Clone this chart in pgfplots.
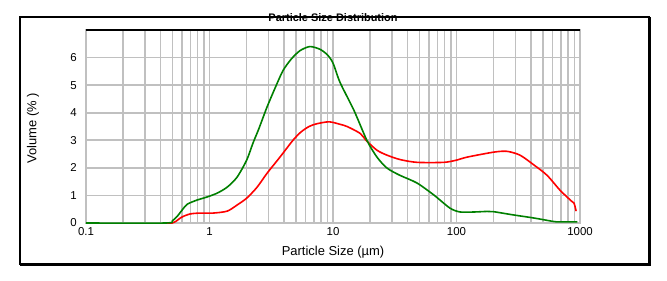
\documentclass[border=0pt]{standalone}
\usepackage{pgfplots}
\pgfplotsset{compat=1.18}
\usepackage{fontspec}
\setmainfont{Liberation Sans}
\definecolor{gridgray}{RGB}{192,192,192}
\definecolor{dgreen}{RGB}{0,128,0}
\begin{document}
\begin{tikzpicture}[x=1bp,y=1bp]
\useasboundingbox (-86,-57) rectangle (581,223);
\fill[white] (-86,-57) rectangle (581,223);
\draw[line width=1.3bp] (-66,-41) rectangle (563,206);
\draw[line width=2.2bp] (-66,-41.5) -- (563.5,-41.5) -- (563.5,206);
\begin{axis}[
  scale only axis, width=494bp, height=193bp,
  xmode=log, xmin=0.1, xmax=1000, ymin=0, ymax=7,
  xtick={0.1,1,10,100,1000}, xticklabels={0.1,1,10,100,1000},
  minor xtick={0.2,0.3,0.4,0.5,0.6,0.7,0.8,0.9,2,3,4,5,6,7,8,9,20,30,40,50,60,70,80,90,200,300,400,500,600,700,800,900},
  ytick={0,1,2,3,4,5,6},
  grid=both,
  major grid style={draw=gridgray, line width=1.6bp},
  minor grid style={draw=gridgray, line width=1.6bp},
  axis line style={draw=gridgray, line width=1.6bp},
  major tick length=0pt, minor tick length=0pt,
  tick style={draw=none},
  /pgf/number format/assume math mode=true,
  tick label style={font=\fontsize{11.5}{13}\selectfont},
  xticklabel style={anchor=north, inner sep=0pt, yshift=-4bp},
  yticklabel style={anchor=east, inner sep=0pt, xshift=-9bp},
  title={Particle Size Distribution},
  title style={font=\bfseries\fontsize{11}{12}\selectfont, at={(axis description cs:0.5,1)}, anchor=base, yshift=3bp, inner sep=0pt},
  xlabel={Particle Size (µm)},
  xlabel style={font=\fontsize{13}{15}\selectfont, at={(axis description cs:0.5,-0.150)}, anchor=center},
  ylabel={Volume (\% )},
  ylabel style={font=\fontsize{13}{15}\selectfont, at={(axis description cs:-0.107,0.49)}, anchor=center},
  clip=false,
]
\addplot[red, line width=1.6bp, smooth, tension=0.45] coordinates {
(0.45,0) (0.5,0) (0.53,0.05) (0.6,0.22) (0.7,0.33) (0.84,0.36) (1.07,0.36) (1.39,0.43) (1.67,0.65) (2.0,0.90) (2.43,1.30) (2.92,1.8) (3.72,2.39) (4.74,3.0) (5.5,3.3) (6.4,3.5) (7.4,3.6) (9.3,3.67) (11.4,3.58) (13,3.5) (16.6,3.25) (18.5,3.0) (22.7,2.64) (27.4,2.46) (35,2.3) (47.9,2.2) (79,2.2) (100,2.28) (122,2.39) (200,2.57) (256,2.6) (327,2.46) (425,2.1) (541,1.73) (689,1.19) (850,0.8) (895,0.72) (930,0.43)
};
\addplot[dgreen, line width=1.6bp, smooth, tension=0.45] coordinates {
(0.1,0) (0.44,0) (0.5,0.08) (0.55,0.25) (0.6,0.47) (0.66,0.68) (0.79,0.83) (0.95,0.94) (1.15,1.08) (1.39,1.3) (1.67,1.66) (2.0,2.28) (2.25,2.9) (2.5,3.4) (2.92,4.2) (3.4,4.9) (3.94,5.53) (4.6,5.95) (5.4,6.25) (6.5,6.4) (7.85,6.3) (9,6.1) (10,5.8) (11.4,5.1) (14.8,4.08) (18.8,3.0) (22.7,2.39) (27.4,1.99) (34.8,1.73) (47.9,1.45) (65.8,1.01) (88.5,0.54) (107,0.40) (140,0.40) (177,0.42) (200,0.41) (292,0.29) (425,0.18) (600,0.06) (650,0.04) (950,0.04)
};
\draw[black, line width=1.5bp] (rel axis cs:0,1) -- (rel axis cs:1,1);
\end{axis}
\end{tikzpicture}
\end{document}
